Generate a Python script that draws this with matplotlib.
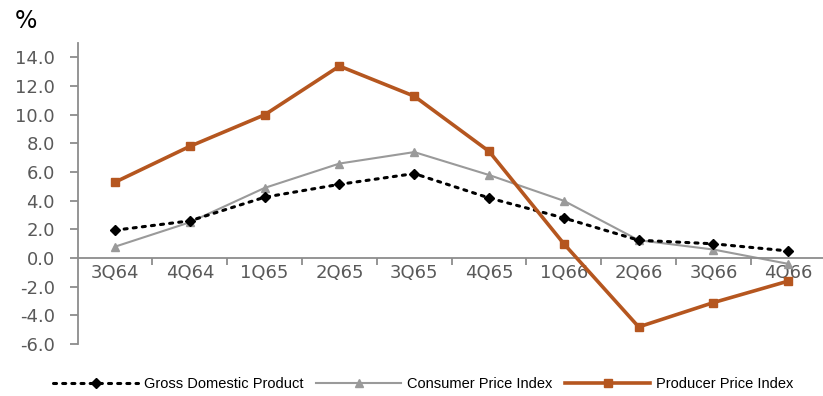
import numpy as np
import matplotlib
matplotlib.use("Agg")
import matplotlib.pyplot as plt
from matplotlib.ticker import FixedLocator

# dados (variacao em %)
trimestres = ["3Q64", "4Q64", "1Q65", "2Q65", "3Q65", "4Q65", "1Q66", "2Q66", "3Q66", "4Q66"]
pib = [1.95, 2.6, 4.25, 5.15, 5.9, 4.2, 2.8, 1.25, 1.0, 0.5]
ipc = [0.8, 2.5, 4.9, 6.6, 7.4, 5.8, 4.0, 1.25, 0.6, -0.4]
ipp = [5.3, 7.8, 10.0, 13.4, 11.3, 7.45, 1.0, -4.8, -3.1, -1.6]

cor_ipp = "#b5561f"
cor_ipc = "#9a9a9a"
cor_eixo = "#8c8c8c"
cor_texto = "#595959"

fig = plt.figure(figsize=(8.23, 3.96), dpi=100)
ax = fig.add_axes([0.0943, 0.131, 0.909, 0.760])

x = np.arange(len(trimestres))

ax.plot(x, pib, color="black", linestyle=(0, (1, 2)), linewidth=2.2,
        dash_capstyle="round", marker="D", markersize=5,
        label="Gross Domestic Product", zorder=3)
ax.plot(x, ipc, color=cor_ipc, linewidth=1.5, marker="^", markersize=6,
        label="Consumer Price Index", zorder=2)
ax.plot(x, ipp, color=cor_ipp, linewidth=2.6, marker="s", markersize=6,
        label="Producer Price Index", zorder=4)

ax.set_xlim(-0.5, len(trimestres) - 0.5)
ax.set_ylim(-6, 15)
ax.set_yticks(np.arange(-6, 15, 2))
ax.set_yticklabels([f"{v:.1f}" for v in np.arange(-6, 15, 2)])

# eixo x cruza no zero
ax.spines["bottom"].set_position(("data", 0))
ax.spines["top"].set_visible(False)
ax.spines["right"].set_visible(False)
for s in ["left", "bottom"]:
    ax.spines[s].set_color(cor_eixo)
    ax.spines[s].set_linewidth(1.3)

ax.set_xticks(x)
ax.set_xticklabels(trimestres)
ax.xaxis.set_minor_locator(FixedLocator(np.arange(0.5, len(trimestres) - 0.5, 1)))
ax.tick_params(axis="x", which="major", length=0, pad=4, labelsize=13, labelcolor=cor_texto)
ax.tick_params(axis="x", which="minor", length=5, width=1.3, color=cor_eixo, direction="out")
ax.tick_params(axis="y", length=5.5, width=1.3, color=cor_eixo, pad=11, labelsize=13, labelcolor=cor_texto)

fig.text(0.018, 0.93, "%", fontsize=17, color="black", family="DejaVu Sans")

fig.legend(loc="lower left", bbox_to_anchor=(0.049, -0.02), ncol=3, frameon=False,
           handlelength=5.8, handletextpad=0.4, columnspacing=0.9, numpoints=1,
           prop={"family": "Liberation Sans", "size": 10.5})

fig.savefig("out.png", dpi=100)
